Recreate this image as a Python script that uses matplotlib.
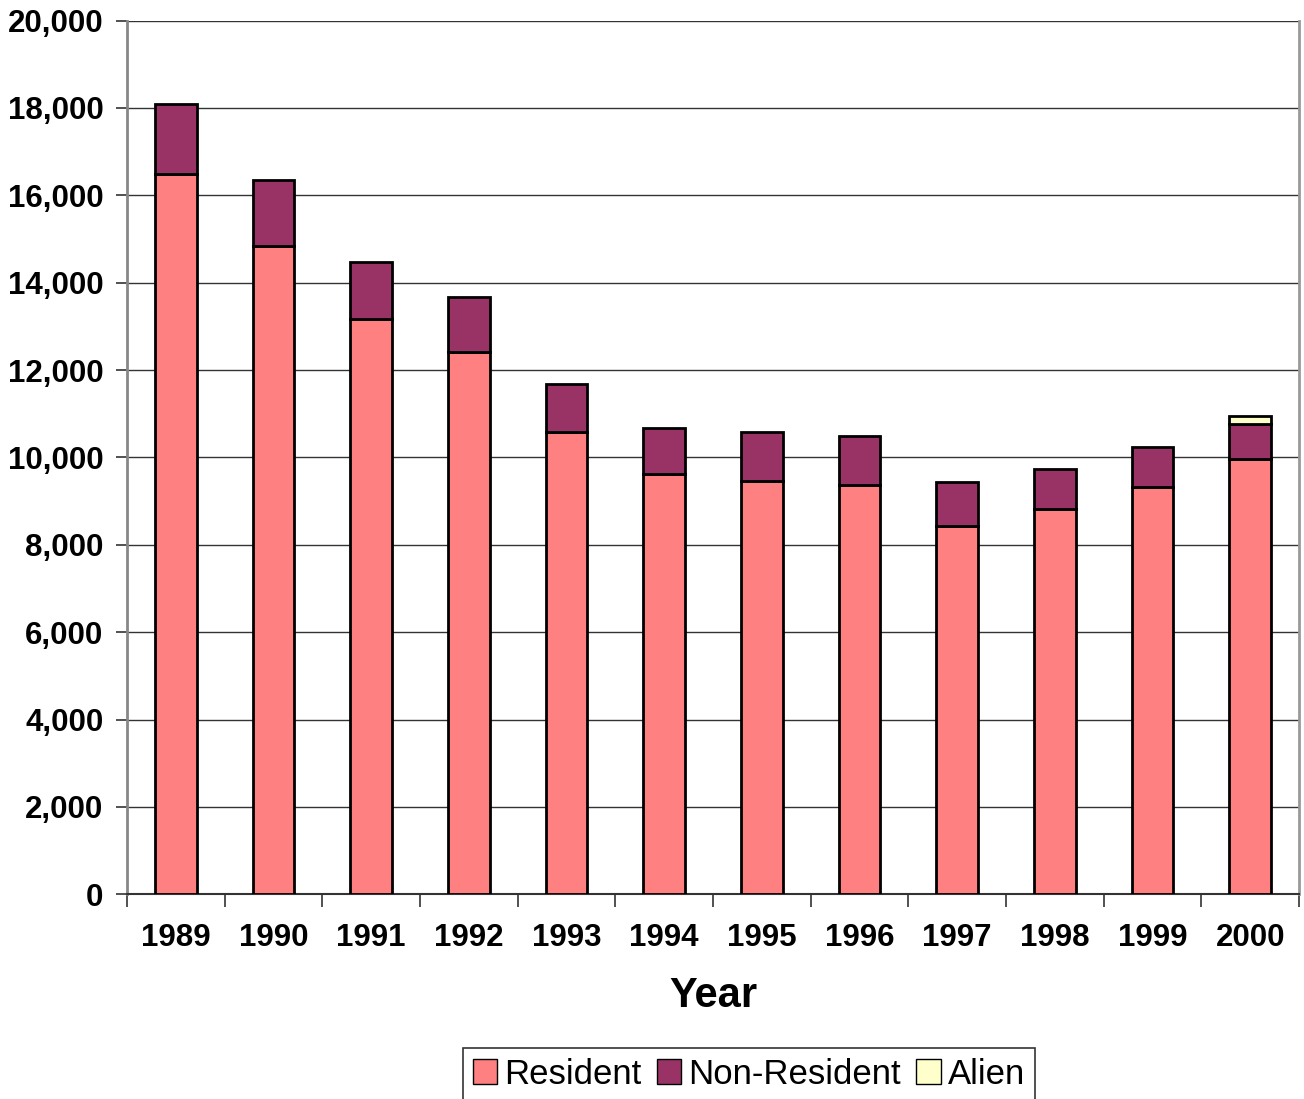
import matplotlib
matplotlib.use("Agg")
import matplotlib.pyplot as plt
import numpy as np
from matplotlib.patches import Patch

years = ["1989", "1990", "1991", "1992", "1993", "1994", "1995", "1996",
         "1997", "1998", "1999", "2000"]
resident = [16480, 14840, 13180, 12420, 10580, 9620, 9460, 9380, 8430, 8820, 9330, 9970]
non_resident = [1610, 1500, 1290, 1250, 1100, 1050, 1120, 1110, 1010, 920, 910, 800]
alien = [0, 0, 0, 0, 0, 0, 0, 0, 0, 0, 0, 170]

c_res = "#FF8080"
c_nr = "#993366"
c_al = "#FFFFCC"

plt.rcParams["font.family"] = ["Liberation Sans", "DejaVu Sans"]

fig = plt.figure(figsize=(13.04, 10.99), dpi=100)
ax = fig.add_axes([127 / 1304, 1 - 894.3 / 1099, (1299 - 127) / 1304, (894.3 - 20.6) / 1099])

x = np.arange(len(years))
w = 0.43
res = np.array(resident)
nr = np.array(non_resident)
al = np.array(alien)
ax.bar(x, res, w, color=c_res, edgecolor="black", linewidth=2, zorder=3)
ax.bar(x, nr, w, bottom=res, color=c_nr, edgecolor="black", linewidth=2, zorder=3)
mask = al > 0
ax.bar(x[mask], al[mask], w, bottom=(res + nr)[mask], color=c_al, edgecolor="black",
       linewidth=2, zorder=3)

ax.set_xlim(-0.5, len(years) - 0.5)
ax.set_ylim(0, 20000)
ax.set_yticks(np.arange(0, 20001, 2000))
ax.set_yticklabels([f"{v:,}" for v in range(0, 20001, 2000)], fontsize=22.5, fontweight="bold")
ax.yaxis.grid(True, color="#333333", linewidth=1.0, zorder=0)
ax.set_axisbelow(True)

ax.set_xticks(x)
ax.set_xticklabels(years, fontsize=22.5, fontweight="bold")
ax.tick_params(axis="x", length=0, pad=21)
ax.set_xticks(np.arange(-0.5, len(years), 1.0), minor=True)
ax.tick_params(axis="x", which="minor", length=9, width=1.2, direction="out", color="#333333")
ax.tick_params(axis="y", length=8, width=1.2, direction="out", color="#333333", pad=9)

ax.spines["top"].set_visible(False)
ax.spines["left"].set_color("#888888")
ax.spines["left"].set_linewidth(2)
ax.spines["right"].set_color("#999999")
ax.spines["right"].set_linewidth(2)
ax.spines["bottom"].set_color("#333333")
ax.spines["bottom"].set_linewidth(1.5)

ax.set_xlabel("Year", fontsize=30, fontweight="bold", labelpad=16)

handles = [Patch(facecolor=c_res, edgecolor="black", label="Resident"),
           Patch(facecolor=c_nr, edgecolor="black", label="Non-Resident"),
           Patch(facecolor=c_al, edgecolor="black", label="Alien")]
leg = fig.legend(handles=handles, loc="upper left", bbox_to_anchor=(463 / 1304, 1 - 1048 / 1099),
                 ncol=3, fontsize=25, frameon=True, fancybox=False, edgecolor="black",
                 handlelength=0.7, handleheight=0.7, handletextpad=0.2, columnspacing=0.45,
                 borderpad=0.28, borderaxespad=0)
leg.get_frame().set_linewidth(1.2)

fig.savefig("out.png", dpi=100)
